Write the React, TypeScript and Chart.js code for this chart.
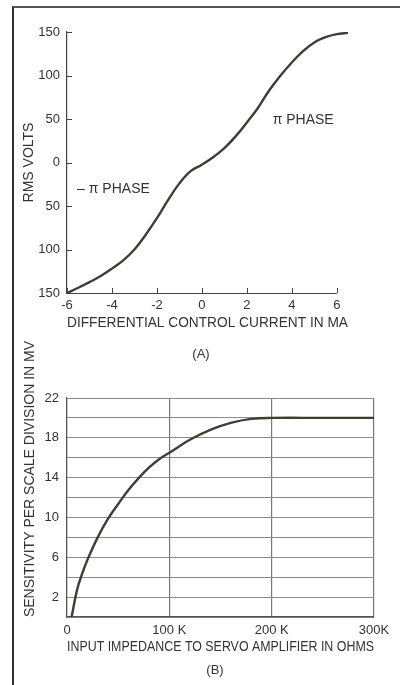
import React, { useEffect, useRef } from 'react';
import { Chart, registerables } from 'chart.js';

Chart.register(...registerables);

// ---------- Chart (A) data ----------
const currentMA = [-6, -5.5, -5, -4.5, -4, -3.5, -3, -2.5, -2, -1.5, -1, -0.5, 0, 0.5, 1, 1.5, 2, 2.5, 3, 3.5, 4, 4.5, 5, 5.5, 6, 6.5];
const rmsVolts = [-150, -144, -137.5, -130.5, -122, -112.5, -100, -83, -64, -43, -24, -10, -2.5, 6, 16.5, 30, 46, 63, 83, 100, 115, 128, 138, 144, 147.5, 149];
const currentTicks = [-6, -4, -2, 0, 2, 4, 6];
const voltTicks = [-150, -100, -50, 0, 50, 100, 150];
const phaseTexts = ['\u2013 \u03C0 PHASE', '\u03C0 PHASE'];
const phaseAtCurrent = [-5.55, 3.15];
const phaseAtVolts = [-31, 49];

// ---------- Chart (B) data ----------
const impedanceK = [4.5, 10, 15, 20, 30, 40, 50, 60, 70, 80, 90, 100, 120, 140, 160, 180, 200, 250, 300];
const sensitivityMV = [0, 2.8, 4.4, 5.75, 8, 9.85, 11.35, 12.75, 13.95, 15, 15.85, 16.5, 17.8, 18.8, 19.5, 19.9, 20, 20, 20];
const impedanceTicks = [0, 100, 200, 300];
const impedanceTickLabels = ['0', '100 K', '200 K', '300K'];
const sensitivityLabelled = [2, 6, 10, 14, 18, 22];

const FONT = '"Liberation Sans", Arial, sans-serif';
const INK = '#333';
const CURVE = '#3e3e36';

const axesA = {
  id: 'axesA',
  afterDraw(chart: any) {
    const { ctx, chartArea, scales } = chart;
    ctx.save();
    ctx.strokeStyle = '#444';
    ctx.lineWidth = 1.2;
    ctx.beginPath();
    const by = Math.round(chartArea.bottom) + 0.5;
    ctx.moveTo(scales.x.getPixelForValue(currentTicks[0]), by);
    ctx.lineTo(scales.x.getPixelForValue(currentTicks[currentTicks.length - 1]), by);
    ctx.stroke();
    ctx.lineWidth = 1;
    ctx.beginPath();
    currentTicks.forEach((v) => {
      const px = Math.round(scales.x.getPixelForValue(v)) + 0.5;
      ctx.moveTo(px, chartArea.bottom);
      ctx.lineTo(px, chartArea.bottom - 5);
    });
    voltTicks.forEach((v) => {
      const py = Math.round(scales.y.getPixelForValue(v)) + 0.5;
      ctx.moveTo(chartArea.left, py);
      ctx.lineTo(chartArea.left + 5, py);
    });
    ctx.stroke();
    ctx.fillStyle = INK;
    ctx.font = '14px ' + FONT;
    ctx.textAlign = 'left';
    ctx.textBaseline = 'middle';
    phaseTexts.forEach((t, i) => {
      ctx.fillText(t, scales.x.getPixelForValue(phaseAtCurrent[i]), scales.y.getPixelForValue(phaseAtVolts[i]));
    });
    ctx.restore();
  },
};

const sideTitleB = {
  id: 'sideTitleB',
  afterDraw(chart: any) {
    const { ctx, chartArea } = chart;
    ctx.save();
    ctx.fillStyle = INK;
    ctx.font = '14px ' + FONT;
    ctx.textAlign = 'center';
    ctx.textBaseline = 'middle';
    ctx.translate(30, chartArea.top + 81);
    ctx.rotate(-Math.PI / 2);
    ctx.fillText('SENSITIVITY PER SCALE DIVISION IN MV', 0, 0);
    ctx.restore();
  },
};

function ChartA() {
  const ref = useRef<HTMLCanvasElement | null>(null);
  useEffect(() => {
    if (!ref.current) return;
    const chart = new Chart(ref.current, {
      type: 'line',
      data: {
        datasets: [
          {
            data: currentMA.map((x, i) => ({ x, y: rmsVolts[i] })),
            borderColor: CURVE,
            borderWidth: 2.4,
            pointRadius: 0,
            tension: 0.4,
          } as any,
        ],
      },
      options: {
        animation: false,
        responsive: false,
        maintainAspectRatio: false,
        layout: { padding: { left: 0, top: 32, right: 52, bottom: 0 } },
        plugins: { legend: { display: false }, tooltip: { enabled: false } },
        scales: {
          x: {
            type: 'linear',
            min: -6,
            max: 6.5,
            afterBuildTicks: (s: any) => {
              s.ticks = currentTicks.map((v) => ({ value: v }));
            },
            grid: { display: true, drawOnChartArea: false, drawTicks: false },
            border: { display: false },
            ticks: { padding: 5, color: INK, font: { family: FONT, size: 13 } },
            title: {
              display: true,
              text: 'DIFFERENTIAL CONTROL CURRENT IN MA',
              color: INK,
              font: { family: FONT, size: 14 },
              padding: { top: 0, bottom: 8 },
            },
            afterFit: (s: any) => {
              s.height = 47;
              s.paddingLeft = 0;
              s.paddingRight = 0;
            },
          },
          y: {
            type: 'linear',
            min: -150,
            max: 150,
            afterBuildTicks: (s: any) => {
              s.ticks = voltTicks.map((v) => ({ value: v }));
            },
            grid: { display: true, drawOnChartArea: false, drawTicks: false },
            border: { display: true, color: '#444', width: 1.2 },
            ticks: {
              padding: 7,
              color: INK,
              font: { family: FONT, size: 13 },
              callback: (v: any) => String(Math.abs(Number(v))),
            },
            title: {
              display: true,
              text: 'RMS VOLTS',
              color: INK,
              font: { family: FONT, size: 14 },
              padding: { top: 21, bottom: 0 },
            },
            afterFit: (s: any) => {
              s.width = 67;
              s.paddingTop = 0;
              s.paddingBottom = 0;
            },
          },
        },
      } as any,
      plugins: [axesA],
    });
    return () => chart.destroy();
  }, []);
  return <canvas ref={ref} width={400} height={340} style={{ position: 'absolute', left: 0, top: 0, width: 400, height: 340 }} />;
}

function ChartB() {
  const ref = useRef<HTMLCanvasElement | null>(null);
  useEffect(() => {
    if (!ref.current) return;
    const chart = new Chart(ref.current, {
      type: 'line',
      data: {
        datasets: [
          {
            data: impedanceK.map((x, i) => ({ x, y: sensitivityMV[i] })),
            borderColor: CURVE,
            borderWidth: 2.4,
            pointRadius: 0,
            tension: 0.4,
          } as any,
        ],
      },
      options: {
        animation: false,
        responsive: false,
        maintainAspectRatio: false,
        layout: { padding: { left: 0, top: 68, right: 26, bottom: 0 } },
        plugins: { legend: { display: false }, tooltip: { enabled: false } },
        scales: {
          x: {
            type: 'linear',
            min: 0,
            max: 300,
            afterBuildTicks: (s: any) => {
              s.ticks = impedanceTicks.map((v) => ({ value: v }));
            },
            grid: { display: true, color: '#777', lineWidth: 1.2, drawTicks: false },
            border: { display: true, color: '#555', width: 1.2 },
            ticks: {
              padding: 6,
              color: INK,
              font: { family: FONT, size: 13 },
              callback: (_v: any, i: number) => impedanceTickLabels[i],
            },
            title: {
              display: true,
              text: 'INPUT IMPEDANCE TO SERVO AMPLIFIER IN OHMS',
              color: INK,
              font: { family: FONT, size: 14 },
              padding: { top: 0, bottom: 29 },
            },
            afterFit: (s: any) => {
              s.height = 68;
              s.paddingLeft = 0;
              s.paddingRight = 0;
            },
          },
          y: {
            type: 'linear',
            min: 0,
            max: 22,
            ticks: {
              stepSize: 2,
              padding: 8,
              color: INK,
              font: { family: FONT, size: 13 },
              callback: (v: any) => (sensitivityLabelled.includes(Number(v)) ? String(v) : ''),
            },
            grid: { display: true, color: '#8a8a8a', lineWidth: 1, drawTicks: false },
            border: { display: true, color: '#555', width: 1.2 },
            afterFit: (s: any) => {
              s.width = 67;
              s.paddingTop = 0;
              s.paddingBottom = 0;
            },
          },
        },
      } as any,
      plugins: [sideTitleB],
    });
    return () => chart.destroy();
  }, []);
  return <canvas ref={ref} width={400} height={355} style={{ position: 'absolute', left: 0, top: 330, width: 400, height: 355 }} />;
}

export default function App() {
  const caption: React.CSSProperties = {
    position: 'absolute',
    fontFamily: FONT,
    fontSize: 13,
    color: INK,
    transform: 'translate(-50%, -50%)',
    whiteSpace: 'nowrap',
    lineHeight: '14px',
  };
  return (
    <div style={{ position: 'absolute', left: 0, top: 0, width: 400, height: 685, background: '#fff', overflow: 'hidden' }}>
      <div style={{ position: 'absolute', left: 12, top: 6, width: 400, height: 700, borderLeft: '2px solid #333', borderTop: '2px solid #555' }} />
      <ChartA />
      <ChartB />
      <div style={{ ...caption, left: 201, top: 354 }}>(A)</div>
      <div style={{ ...caption, left: 215, top: 670 }}>(B)</div>
    </div>
  );
}
